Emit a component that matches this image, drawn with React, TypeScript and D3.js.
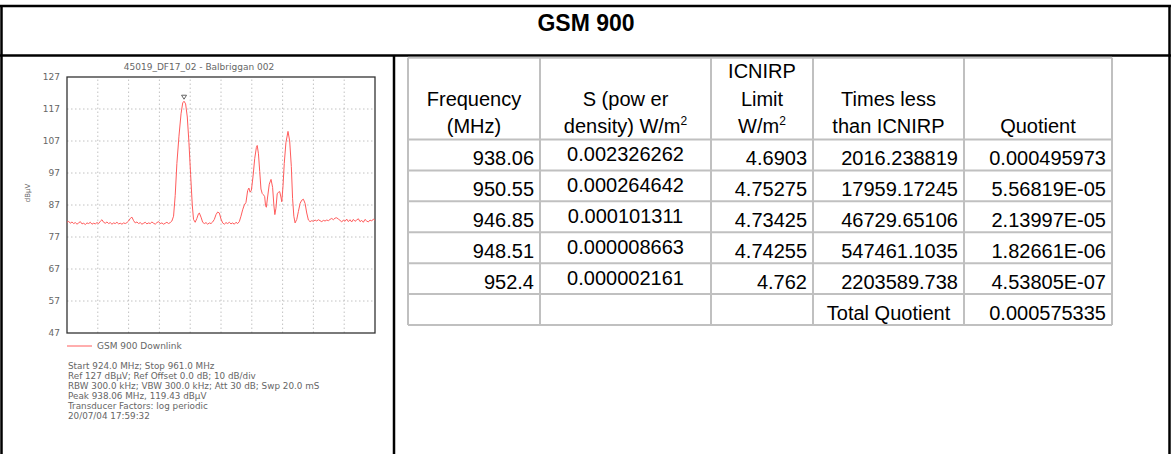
import React from "react";
import * as d3 from "d3";

// ---------- data ----------
const pageTitle = "GSM 900";
const chartTitle = "45019_DF17_02 - Balbriggan 002";
const seriesName = "GSM 900 Downlink";
const yUnit = "dBµV";
const freqRange = [924, 961];
const levelRange = [47, 127];
const yTicks = [47, 57, 67, 77, 87, 97, 107, 117, 127];
const xDivisions = 10;
const peak = { f: 938.06, v: 119.43 };

// spectrum trace [MHz, dBµV]
const trace: [number, number][] = [
  [924.0, 81.6], [924.2, 81.9], [924.4, 81.3], [924.6, 81.7], [924.8, 81.2], [925.0, 81.5],
  [925.2, 81.0], [925.4, 81.4], [925.6, 81.8], [925.8, 81.1], [926.0, 81.3], [926.2, 80.9],
  [926.4, 81.4], [926.6, 81.2], [926.8, 81.6], [927.0, 81.0], [927.2, 81.3], [927.4, 81.1],
  [927.6, 81.5], [927.8, 81.2], [928.0, 81.9], [928.2, 82.4], [928.4, 81.6], [928.6, 81.3],
  [928.8, 81.7], [929.0, 81.2], [929.2, 81.5], [929.4, 81.0], [929.6, 81.4], [929.8, 81.2],
  [930.0, 81.6], [930.2, 81.1], [930.4, 81.3], [930.6, 81.0], [930.8, 81.4], [931.0, 81.2],
  [931.2, 81.5], [931.4, 82.0], [931.6, 82.8], [931.8, 83.2], [932.0, 82.1], [932.2, 81.4],
  [932.4, 81.7], [932.6, 81.2], [932.8, 81.5], [933.0, 81.0], [933.2, 81.3], [933.4, 81.6],
  [933.6, 81.1], [933.8, 81.4], [934.0, 81.2], [934.2, 81.7], [934.4, 81.3], [934.6, 81.0],
  [934.8, 81.5], [935.0, 81.8], [935.2, 81.2], [935.4, 81.4], [935.6, 81.0], [935.8, 81.3],
  [936.0, 81.6], [936.2, 81.2], [936.4, 81.5], [936.6, 82.0], [936.8, 83.5], [937.0, 90.0],
  [937.2, 100.0], [937.45, 108.5], [937.7, 115.5], [937.9, 118.9], [938.06, 119.43], [938.25, 118.6],
  [938.45, 114.5], [938.65, 106.5], [938.85, 96.5], [939.05, 87.0], [939.2, 82.5], [939.4, 81.6],
  [939.6, 82.8], [939.8, 84.3], [939.9, 84.5], [940.1, 83.2], [940.3, 81.6], [940.5, 81.2],
  [940.7, 81.5], [940.9, 81.0], [941.1, 81.4], [941.3, 81.2], [941.5, 81.7], [941.7, 82.5],
  [941.9, 84.0], [942.1, 84.8], [942.3, 84.5], [942.5, 82.6], [942.7, 81.4], [942.9, 81.0],
  [943.1, 81.5], [943.3, 81.2], [943.5, 81.6], [943.7, 81.1], [943.9, 81.4], [944.1, 81.0],
  [944.3, 81.6], [944.5, 81.2], [944.7, 81.8], [944.9, 83.5], [945.1, 85.5], [945.3, 87.0],
  [945.5, 87.8], [945.7, 91.5], [945.85, 92.3], [946.0, 91.0], [946.15, 91.6], [946.35, 96.0],
  [946.55, 101.5], [946.75, 105.0], [946.85, 105.6], [947.0, 103.0], [947.15, 97.5], [947.3, 92.0],
  [947.45, 90.6], [947.6, 90.2], [947.75, 89.6], [947.85, 86.8], [947.95, 86.3], [948.1, 89.5],
  [948.3, 93.5], [948.51, 95.0], [948.7, 92.5], [948.85, 87.0], [948.97, 84.0], [949.1, 86.0],
  [949.25, 90.5], [949.4, 91.0], [949.55, 91.2], [949.7, 89.5], [949.8, 88.0], [949.95, 93.0],
  [950.1, 100.0], [950.3, 106.5], [950.55, 110.0], [950.75, 107.0], [950.95, 99.0], [951.1, 89.0],
  [951.25, 83.5], [951.4, 81.4], [951.6, 82.5], [951.8, 85.0], [952.0, 87.5], [952.2, 88.5],
  [952.4, 88.8], [952.6, 87.5], [952.8, 84.5], [953.0, 82.3], [953.2, 81.8], [953.4, 82.1],
  [953.6, 81.9], [953.8, 82.3], [954.0, 82.0], [954.2, 82.4], [954.4, 82.1], [954.6, 81.8],
  [954.8, 82.2], [955.0, 82.0], [955.2, 82.3], [955.4, 82.1], [955.6, 82.5], [955.8, 82.8],
  [956.0, 82.4], [956.2, 82.9], [956.4, 83.0], [956.6, 82.6], [956.8, 82.2], [957.0, 81.7],
  [957.2, 82.3], [957.4, 81.9], [957.6, 82.6], [957.8, 81.8], [958.0, 82.4], [958.2, 81.7],
  [958.4, 82.5], [958.6, 81.9], [958.8, 82.3], [959.0, 82.7], [959.2, 81.8], [959.4, 82.2],
  [959.6, 81.6], [959.8, 82.5], [960.0, 82.0], [960.2, 81.7], [960.4, 82.3], [960.6, 82.0],
  [960.8, 82.6], [961.0, 82.2],
];

const infoLines = [
  "Start 924.0 MHz; Stop 961.0 MHz",
  "Ref 127 dBµV; Ref Offset 0.0 dB; 10 dB/div",
  "RBW 300.0 kHz; VBW 300.0 kHz; Att 30 dB; Swp 20.0 mS",
  "Peak 938.06 MHz, 119.43 dBµV",
  "Transducer Factors: log periodic",
  "20/07/04 17:59:32",
];

// table
const frequencies = ["938.06", "950.55", "946.85", "948.51", "952.4"];
const powerDensity = ["0.002326262", "0.000264642", "0.000101311", "0.000008663", "0.000002161"];
const icnirpLimit = ["4.6903", "4.75275", "4.73425", "4.74255", "4.762"];
const timesLess = ["2016.238819", "17959.17245", "46729.65106", "547461.1035", "2203589.738"];
const quotient = ["0.000495973", "5.56819E-05", "2.13997E-05", "1.82661E-06", "4.53805E-07"];
const totalLabel = "Total Quotient";
const totalQuotient = "0.000575335";

// ---------- component ----------
export default function App() {
  const W = 1171, H = 454;
  const x = d3.scaleLinear().domain(freqRange).range([67, 375]);
  const y = d3.scaleLinear().domain(levelRange).range([333, 77]);
  const line = d3.line<[number, number]>().x((d) => x(d[0])).y((d) => y(d[1]));
  const xGrid = d3.range(1, xDivisions).map((i) => freqRange[0] + (i * (freqRange[1] - freqRange[0])) / xDivisions);

  const chartFont = "DejaVu Sans, sans-serif";
  const grey = "#666";
  const tFont = "Liberation Sans, Arial, sans-serif";
  const gridC = "#c0c0c0";

  // table geometry
  const colX = [408, 540, 711, 813, 964, 1112];
  const tTop = 57.7;
  const headBottom = 139.5;
  const tBottom = 325;
  const nRows = 6;
  const rowH = (tBottom - headBottom) / nRows;
  const rowTop = (i: number) => headBottom + i * rowH;
  const fs = 20;
  const pad = 6;
  const colC = (i: number) => (colX[i] + colX[i + 1]) / 2;
  const hb = [78, 105.5, 133];

  const sup = (txt: string) => (
    <>
      {txt}
      <tspan fontSize={12} dy={-8}>2</tspan>
    </>
  );

  const px = x(peak.f), py = y(peak.v);

  return (
    <svg width={W} height={H} style={{ position: "absolute", left: 0, top: 0, background: "#fff" }}>
      <rect x={0} y={0} width={W} height={H} fill="#fff" />
      {/* outer frame */}
      <line x1={1.5} y1={6} x2={1.5} y2={H} stroke="#000" strokeWidth={2.5} />
      <line x1={1169.5} y1={6} x2={1169.5} y2={H} stroke="#000" strokeWidth={2.5} />
      <line x1={0} y1={6} x2={W} y2={6} stroke="#000" strokeWidth={2.5} />
      <line x1={0} y1={55.5} x2={W} y2={55.5} stroke="#000" strokeWidth={2.5} />
      <line x1={394} y1={55.5} x2={394} y2={H} stroke="#000" strokeWidth={2.5} />
      <text x={586} y={31} textAnchor="middle" fontFamily={tFont} fontWeight="bold" fontSize={23} fill="#000">
        {pageTitle}
      </text>

      {/* ---------- spectrum chart ---------- */}
      <text x={199} y={70} textAnchor="middle" fontFamily={chartFont} fontSize={9} fill={grey}>
        {chartTitle}
      </text>
      {yTicks.slice(1, -1).map((t) => (
        <line key={"h" + t} x1={x(freqRange[0])} x2={x(freqRange[1])} y1={y(t)} y2={y(t)} stroke="#bbb" strokeWidth={0.9} strokeDasharray="1.5,2.5" />
      ))}
      {xGrid.map((f, i) => (
        <line key={"v" + i} x1={x(f)} x2={x(f)} y1={y(levelRange[0])} y2={y(levelRange[1])} stroke="#bbb" strokeWidth={0.9} strokeDasharray="1.5,2.5" />
      ))}
      <rect x={x(freqRange[0])} y={y(levelRange[1])} width={x(freqRange[1]) - x(freqRange[0])} height={y(levelRange[0]) - y(levelRange[1])} fill="none" stroke="#333" strokeWidth={1.3} />
      {yTicks.map((t) => (
        <text key={"yt" + t} x={60} y={y(t) + 3} textAnchor="end" fontFamily={chartFont} fontSize={9} fill={grey}>
          {t}
        </text>
      ))}
      <text transform={`translate(30,${y(87) - 12}) rotate(-90)`} textAnchor="middle" fontFamily={chartFont} fontSize={7} fill={grey}>
        {yUnit}
      </text>
      <path d={line(trace) || ""} fill="none" stroke="#ff5c5c" strokeWidth={1} />
      <path d={`M${px - 2.5},${py - 6} L${px + 2.5},${py - 6} L${px},${py - 2} Z`} fill="none" stroke="#555" strokeWidth={0.9} />
      {/* legend */}
      <line x1={67} x2={92} y1={346} y2={346} stroke="#ff5c5c" strokeWidth={1} />
      <text x={97} y={349} fontFamily={chartFont} fontSize={9} fill={grey}>
        {seriesName}
      </text>
      {infoLines.map((s, i) => (
        <text key={"il" + i} x={68} y={369 + i * 10} fontFamily={chartFont} fontSize={8.8} fill={grey}>
          {s}
        </text>
      ))}

      {/* ---------- table ---------- */}
      <g fontFamily={tFont} fontSize={fs} fill="#000">
        {/* header */}
        <text x={colC(0)} y={hb[1]} textAnchor="middle">Frequency</text>
        <text x={colC(0)} y={hb[2]} textAnchor="middle">(MHz)</text>
        <text x={colC(1)} y={hb[1]} textAnchor="middle">S (pow er</text>
        <text x={colC(1)} y={hb[2]} textAnchor="middle">{sup("density) W/m")}</text>
        <text x={colC(2)} y={hb[0]} textAnchor="middle">ICNIRP</text>
        <text x={colC(2)} y={hb[1]} textAnchor="middle">Limit</text>
        <text x={colC(2)} y={hb[2]} textAnchor="middle">{sup("W/m")}</text>
        <text x={colC(3)} y={hb[1]} textAnchor="middle">Times less</text>
        <text x={colC(3)} y={hb[2]} textAnchor="middle">than ICNIRP</text>
        <text x={colC(4)} y={hb[2]} textAnchor="middle">Quotient</text>
        {frequencies.map((f, i) => {
          const b = rowTop(i + 1);
          return (
            <g key={"r" + i}>
              <text x={colX[1] - pad} y={b - 5} textAnchor="end">{f}</text>
              <text x={colC(1)} y={b - 9} textAnchor="middle">{powerDensity[i]}</text>
              <text x={colX[3] - pad} y={b - 5} textAnchor="end">{icnirpLimit[i]}</text>
              <text x={colX[4] - pad} y={b - 5} textAnchor="end">{timesLess[i]}</text>
              <text x={colX[5] - pad} y={b - 5} textAnchor="end">{quotient[i]}</text>
            </g>
          );
        })}
        <text x={colC(3)} y={rowTop(6) - 5} textAnchor="middle">{totalLabel}</text>
        <text x={colX[5] - pad} y={rowTop(6) - 5} textAnchor="end">{totalQuotient}</text>
      </g>
      {/* table grid */}
      <g stroke={gridC} strokeWidth={2}>
        {colX.map((cx, i) => (
          <line key={"tc" + i} x1={cx} x2={cx} y1={tTop} y2={tBottom} />
        ))}
        <line x1={colX[0]} x2={colX[5]} y1={tTop} y2={tTop} />
        {d3.range(nRows + 1).map((i) => (
          <line key={"tr" + i} x1={colX[0]} x2={colX[5]} y1={rowTop(i)} y2={rowTop(i)} />
        ))}
      </g>
    </svg>
  );
}
